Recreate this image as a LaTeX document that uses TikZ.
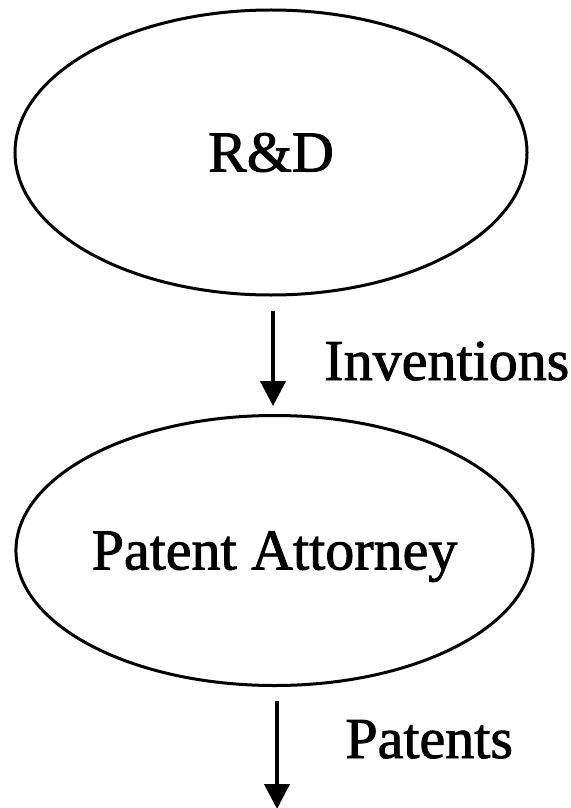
\documentclass[tikz,border=0pt]{standalone}
\usepackage{fontspec}
\setmainfont{Liberation Serif}
\newfontfamily\heavyserif[FakeBold=1.5]{Liberation Serif}
\usetikzlibrary{shapes.geometric,arrows.meta}

\tikzset{
  stage/.style={ellipse, draw=black, line width=1.5pt, inner sep=0pt,
    text height=19pt, text depth=0pt,
    font=\heavyserif\fontsize{29pt}{34pt}\selectfont},
  flowlabel/.style={anchor=base west, inner sep=0pt,
    font=\heavyserif\fontsize{29pt}{34pt}\selectfont},
  flow/.style={line width=2pt, -{Triangle[width=12.5pt,length=12.5pt]}}
}

\begin{document}
\begin{tikzpicture}[x=0.5pt,y=-0.5pt]
  % page area, white
  \fill[white] (0,0) rectangle (570,808);
  \useasboundingbox (0,0) rectangle (570,808);

  % the two stages
  \node[stage, minimum width=256pt, minimum height=142.5pt] (rd) at (271,152.5) {R\&D};
  \node[stage, minimum width=258.5pt, minimum height=135pt] (pa) at (274.5,550.5) {Patent Attorney};
  \coordinate (out) at (277,809);

  % flows between them
  \draw[flow, shorten <=7pt, shorten >=4pt] (rd.south -| 273,0) -- (pa.north -| 273,0);
  \draw[flow, shorten <=7pt] (pa.south -| 277,0) -- (out);

  % flow labels
  \node[flowlabel] (inv) at (324,380) {Inventions};
  \node[flowlabel] (pat) at (345,758) {Patents};
\end{tikzpicture}
\end{document}
